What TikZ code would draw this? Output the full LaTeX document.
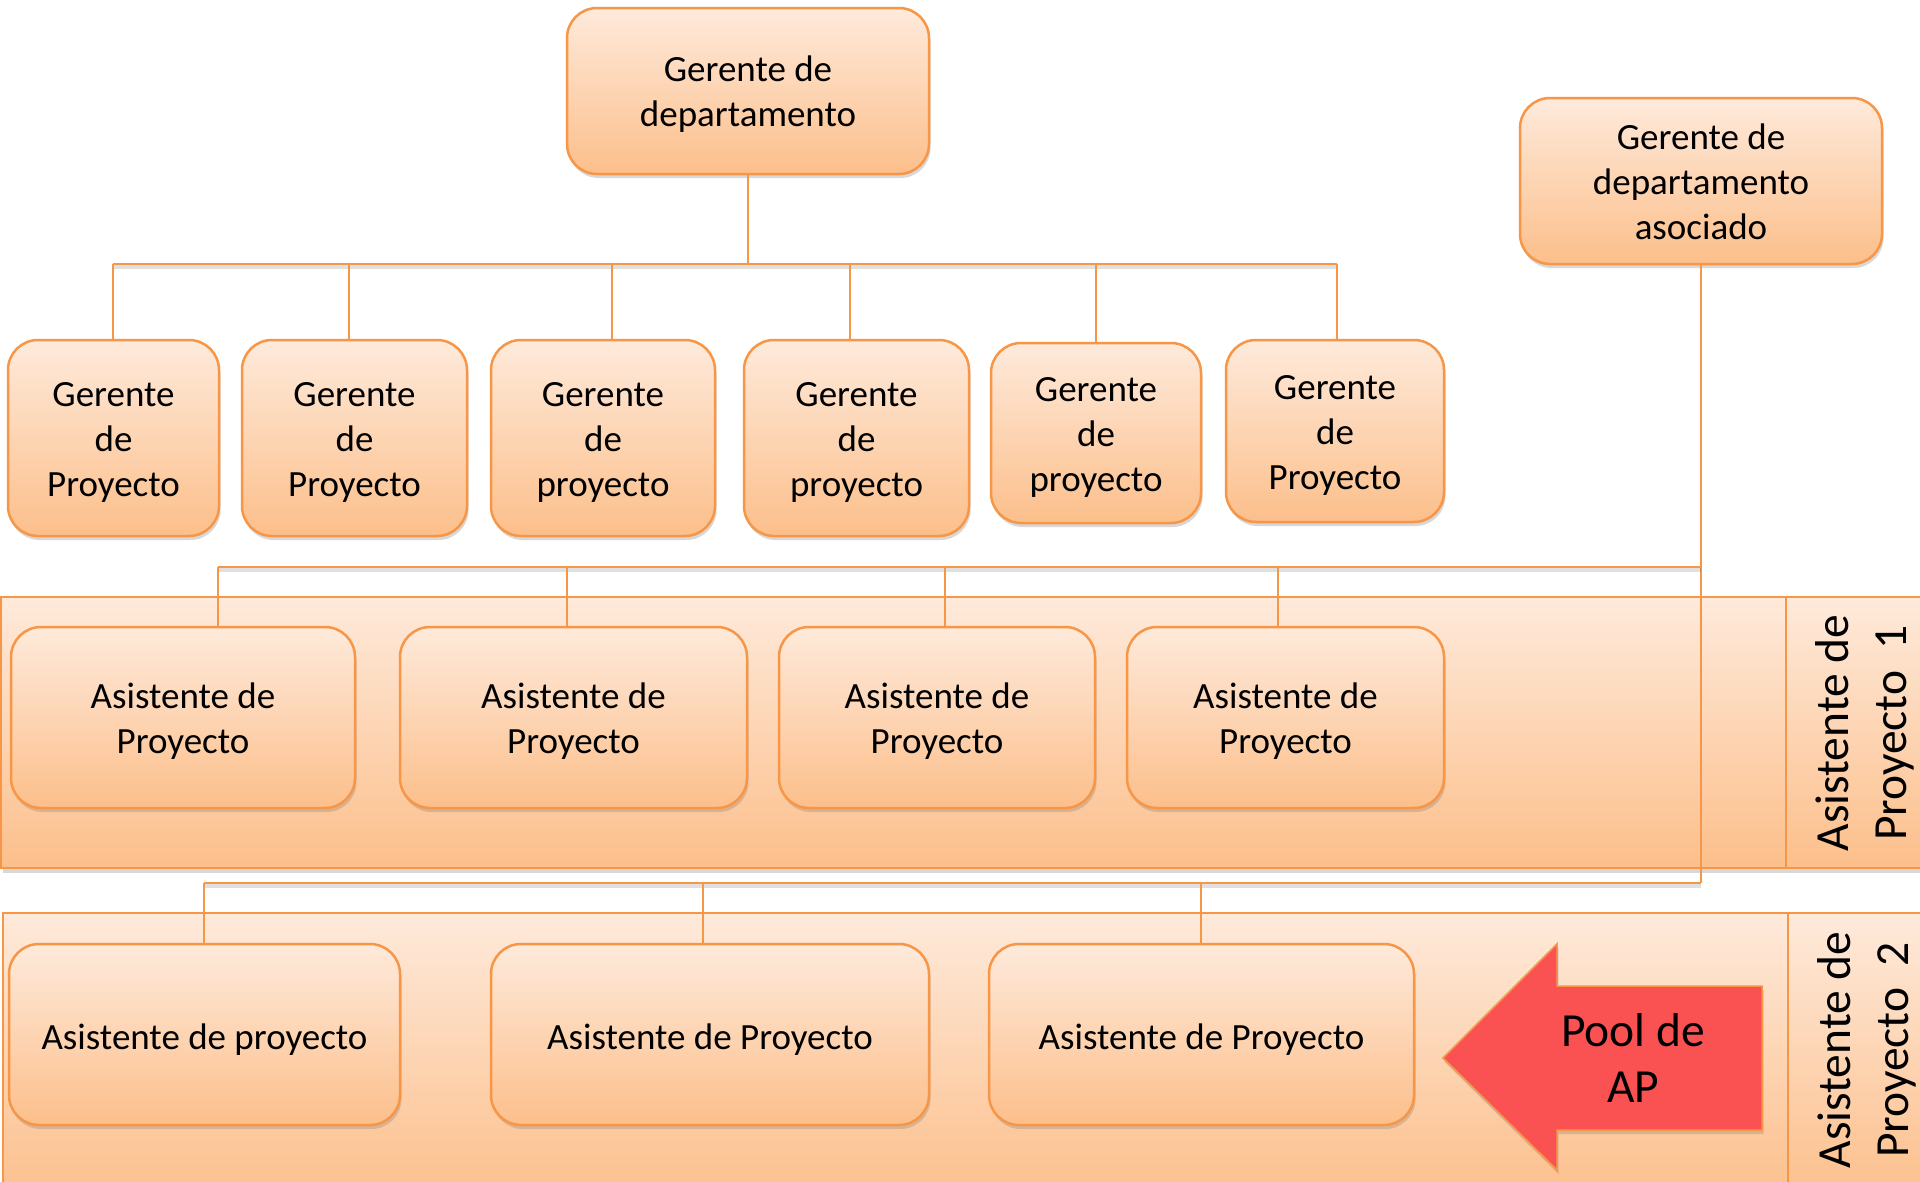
\documentclass[tikz,border=0pt]{standalone}
\usepackage{fontspec}
\setmainfont{Carlito}
\usetikzlibrary{shadows,calc}
\definecolor{ob}{HTML}{F79646}
\definecolor{ltop}{HTML}{FEEADB}
\definecolor{lbot}{HTML}{FCBF8B}
\definecolor{arrowred}{HTML}{FA5252}
\newcommand{\ts}{\rule{0pt}{34pt}}
\newcommand{\tss}{\rule{0pt}{38pt}}
\newcommand{\bs}{\rule[-8pt]{0pt}{8pt}}
\tikzset{
  box/.style={draw=ob, line width=2.5pt, rounded corners=30pt, top color=ltop, bottom color=lbot,
    align=center, inner sep=0pt, font=\fontsize{37}{45}\selectfont,
    drop shadow={shadow xshift=1.5pt, shadow yshift=-4pt, opacity=0.3}},
  band/.style={draw=ob, line width=2.5pt, top color=ltop, bottom color=lbot,
    drop shadow={shadow xshift=1.5pt, shadow yshift=-5pt, opacity=0.3}},
  conn/.style={draw=ob, line width=2.5pt,
    preaction={draw=black, opacity=0.12, line width=4pt, transform canvas={yshift=-3pt}}},
  vconn/.style={draw=ob, line width=2.5pt},
  side/.style={rotate=90, align=center, font=\fontsize{47.5}{57.5}\selectfont},
}
\begin{document}
\begin{tikzpicture}[x=1pt,y=-1pt]
\useasboundingbox (0,0) rectangle (1920,1181);
\clip (0,0) rectangle (1920,1181);
\fill[white] (0,0) rectangle (1920,1181);

% bands
\path[band] (1,597) rectangle (1786,868);
\path[band] (1786,597) rectangle (1930,868);
\path[band] (3,913) rectangle (1788,1200);
\path[band] (1788,913) rectangle (1930,1200);
\node[side] (lab1) at (1865,733) {Asistente de\\Proyecto\ \ 1};
\node[side] (lab2) at (1867,1050) {Asistente de\\Proyecto\ \ 2};

% nodes
\node[box, minimum width=362pt, minimum height=166pt] (dept) at (748,91) {\ts Gerente de\\departamento\bs};
\node[box, minimum width=362pt, minimum height=166pt] (assoc) at (1701,181) {\ts Gerente de\\departamento\\asociado\bs};

\node[box, minimum width=211pt, minimum height=196pt] (gp1) at (113.5,438) {\ts Gerente\\de\\Proyecto\bs};
\node[box, minimum width=225pt, minimum height=196pt] (gp2) at (354.5,438) {\ts Gerente\\de\\Proyecto\bs};
\node[box, minimum width=224pt, minimum height=196pt] (gp3) at (603,438) {\ts Gerente\\de\\proyecto\bs};
\node[box, minimum width=225pt, minimum height=196pt] (gp4) at (856.5,438) {\ts Gerente\\de\\proyecto\bs};
\node[box, minimum width=210pt, minimum height=180pt] (gp5) at (1096,433) {\ts Gerente\\de\\proyecto\bs};
\node[box, minimum width=218pt, minimum height=182pt] (gp6) at (1335,431) {\ts Gerente\\de\\Proyecto\bs};

\node[box, minimum width=344pt, minimum height=181pt] (ap1) at (183,717.5) {\ts Asistente de\\Proyecto\bs};
\node[box, minimum width=347pt, minimum height=181pt] (ap2) at (573.5,717.5) {\ts Asistente de\\Proyecto\bs};
\node[box, minimum width=316pt, minimum height=181pt] (ap3) at (937,717.5) {\ts Asistente de\\Proyecto\bs};
\node[box, minimum width=317pt, minimum height=181pt] (ap4) at (1285.5,717.5) {\ts Asistente de\\Proyecto\bs};

\node[box, minimum width=391pt, minimum height=181pt] (aq1) at (204.5,1034.5) {\tss Asistente de proyecto\bs};
\node[box, minimum width=438pt, minimum height=181pt] (aq2) at (710,1034.5) {\tss Asistente de Proyecto\bs};
\node[box, minimum width=425pt, minimum height=181pt] (aq3) at (1201.5,1034.5) {\tss Asistente de Proyecto\bs};

% connectors: department manager to project managers
\coordinate (g0) at (748,264);
\coordinate (g1) at (113,264);
\coordinate (g2) at (349,264);
\coordinate (g3) at (612,264);
\coordinate (g4) at (850,264);
\coordinate (g5) at (1096,264);
\coordinate (g6) at (1337,264);
\draw[vconn] (dept.south) -- (g0);
\draw[conn] (g1) -- (g6);
\foreach \i in {1,...,6} {\draw[vconn] (g\i) -- (g\i |- gp\i.north);}

% associated manager to assistants
\coordinate (j1) at (1701,567);
\coordinate (j2) at (1701,883);
\draw[vconn] (assoc.south) -- (j2);
\coordinate (p1) at (218,567);
\coordinate (p2) at (567,567);
\coordinate (p3) at (945,567);
\coordinate (p4) at (1278,567);
\draw[conn] (p1) -- (j1);
\foreach \i in {1,...,4} {\draw[vconn] (p\i) -- (p\i |- ap\i.north);}
\coordinate (q1) at (204,883);
\coordinate (q2) at (703,883);
\coordinate (q3) at (1201,883);
\draw[conn] (q1) -- (j2);
\foreach \i in {1,...,3} {\draw[vconn] (q\i) -- (q\i |- aq\i.north);}

% Pool arrow
\draw[draw=ob, line width=1.5pt, fill=arrowred,
  drop shadow={shadow xshift=1.5pt, shadow yshift=-4pt, opacity=0.3}]
  (1443,1058) -- (1557,944) -- (1557,986) -- (1762,986) -- (1762,1130)
  -- (1557,1130) -- (1557,1170) -- cycle;
\node[align=center, font=\fontsize{47.5}{56}\selectfont] (pool) at (1633,1058) {Pool de\\AP};
\end{tikzpicture}
\end{document}
